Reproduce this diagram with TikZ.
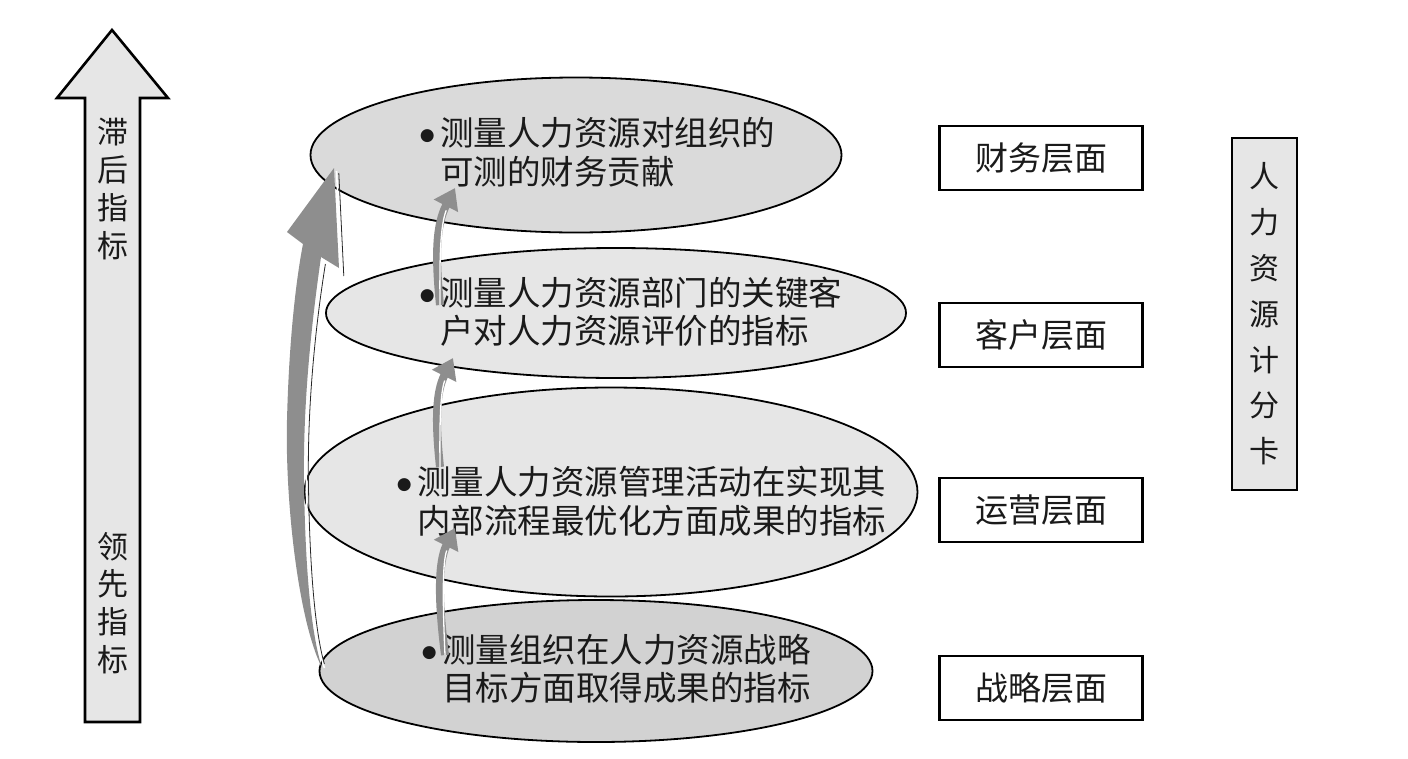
\documentclass[tikz,border=0pt]{standalone}
\usepackage{fontspec}
\newfontfamily\cjk{Noto Sans CJK SC}
\newfontfamily\sym{DejaVu Sans}
\usetikzlibrary{arrows.meta,shapes.geometric}
\definecolor{arrowgray}{HTML}{8E8E8E}
\definecolor{fillA}{HTML}{DADADA}
\definecolor{fillB}{HTML}{E6E6E6}
\definecolor{fillC}{HTML}{D2D2D2}
\definecolor{ink}{HTML}{1A1A1A}
\newcommand{\bul}{\makebox[26pt][c]{\raisebox{5pt}{\sym\fontsize{17}{17}\selectfont ●}}}
\begin{document}
\begin{tikzpicture}[x=1pt,y=1pt,
  ell/.style={ellipse, draw=black, line width=1.8pt, inner sep=0pt},
  etext/.style={anchor=west, align=left, inner sep=0pt, text=ink,
    font=\cjk\fontsize{33.5}{38.5}\selectfont},
  lvl/.style={draw=black, line width=2.6pt, fill=white, minimum width=203pt,
    minimum height=64pt, inner sep=0pt, text=ink, font=\cjk\fontsize{33}{33}\selectfont},
  vtext/.style={align=center, inner sep=0pt, text=ink},
  smallarr/.style={draw=arrowgray, line width=8pt, -{Triangle[width=26pt,length=20pt]}},
  hilite/.style={draw=white, line width=1.3pt, xshift=4.5pt, shorten >=24pt}
]
\useasboundingbox (0,0) rectangle (1408,-758);

% left big arrow
\draw[line width=2.6pt, fill=fillB, line join=miter]
  (85,-722) -- (85,-98) -- (57,-98) -- (112,-30) -- (168,-98) -- (140,-98) -- (140,-722) -- cycle;
\node[vtext, font=\cjk\fontsize{31}{37.7}\selectfont] (lag) at (113,-189) {滞\\后\\指\\标};
\node[vtext, font=\cjk\fontsize{31}{37.7}\selectfont] (lead) at (113,-603) {领\\先\\指\\标};

% ellipses
\node[ell, fill=fillA, minimum width=531pt, minimum height=155pt] (e1) at (576,-155) {};
\node[ell, fill=fillB, minimum width=580pt, minimum height=130pt] (e2) at (616,-313) {};
\node[ell, fill=fillB, minimum width=613pt, minimum height=209pt] (e3) at (611,-492) {};
\node[ell, fill=fillC, minimum width=553pt, minimum height=142pt] (e4) at (596,-671) {};

% ellipse texts
\node[etext] (t1) at (414,-152.5) {\bul 测量人力资源对组织的\\\hspace*{26pt}可测的财务贡献};
\node[etext] (t2) at (414,-311.5) {\bul 测量人力资源部门的关键客\\\hspace*{26pt}户对人力资源评价的指标};
\node[etext] (t3) at (391,-501.5) {\bul 测量人力资源管理活动在实现其\\\hspace*{26pt}内部流程最优化方面成果的指标};
\node[etext] (t4) at (416,-669) {\bul 测量组织在人力资源战略\\\hspace*{26pt}目标方面取得成果的指标};

% big curved arrow
\fill[arrowgray] (322,-668) .. controls (298,-620) and (285,-500) .. (287,-420)
  .. controls (289,-340) and (296,-280) .. (303,-244) -- (287,-232) -- (334,-168)
  -- (339,-268) -- (321,-257) .. controls (312,-320) and (303,-400) .. (304,-480)
  .. controls (305,-560) and (310,-630) .. (322,-668) -- cycle;
\draw[white, line width=1.6pt] (336.5,-171) -- (341.5,-270);
\draw[black!85, line width=0.8pt] (338.8,-173) -- (343.8,-276);
\draw[white, line width=1.6pt, xshift=2.4pt] (321,-262) .. controls (312,-320) and (303,-400) .. (304,-480)
  .. controls (305,-560) and (310,-630) .. (322,-668);
\draw[black!85, line width=0.8pt, xshift=4.4pt] (321,-264) .. controls (312,-320) and (303,-400) .. (304,-480)
  .. controls (305,-560) and (310,-630) .. (320,-664);

% small arrows between levels
\coordinate (a1s) at (440,-305); \coordinate (a1e) at (455,-188);
\coordinate (a2s) at (440,-467); \coordinate (a2e) at (453,-358);
\coordinate (a3s) at (445,-655); \coordinate (a3e) at (455,-528);
\draw[smallarr] (a1s) .. controls (435,-255) and (436,-225) .. (a1e);
\draw[hilite] (a1s) .. controls (435,-255) and (436,-225) .. (a1e);
\draw[smallarr] (a2s) .. controls (435,-420) and (436,-392) .. (a2e);
\draw[hilite] (a2s) .. controls (435,-420) and (436,-392) .. (a2e);
\draw[smallarr] (a3s) .. controls (438,-600) and (438,-562) .. (a3e);
\draw[hilite] (a3s) .. controls (438,-600) and (438,-562) .. (a3e);

% level boxes
\node[lvl] (b1) at (1041,-158) {财务层面};
\node[lvl] (b2) at (1041,-335) {客户层面};
\node[lvl] (b3) at (1041,-510) {运营层面};
\node[lvl] (b4) at (1041,-688) {战略层面};

% scorecard box
\node[draw=black, line width=2.6pt, fill=fillB, minimum width=65pt, minimum height=352pt, inner sep=0pt] (card) at (1264.5,-314) {};
\node[vtext, font=\cjk\fontsize{30}{45.8}\selectfont] (cardtext) at (card.center) {人\\力\\资\\源\\计\\分\\卡};
\end{tikzpicture}
\end{document}
